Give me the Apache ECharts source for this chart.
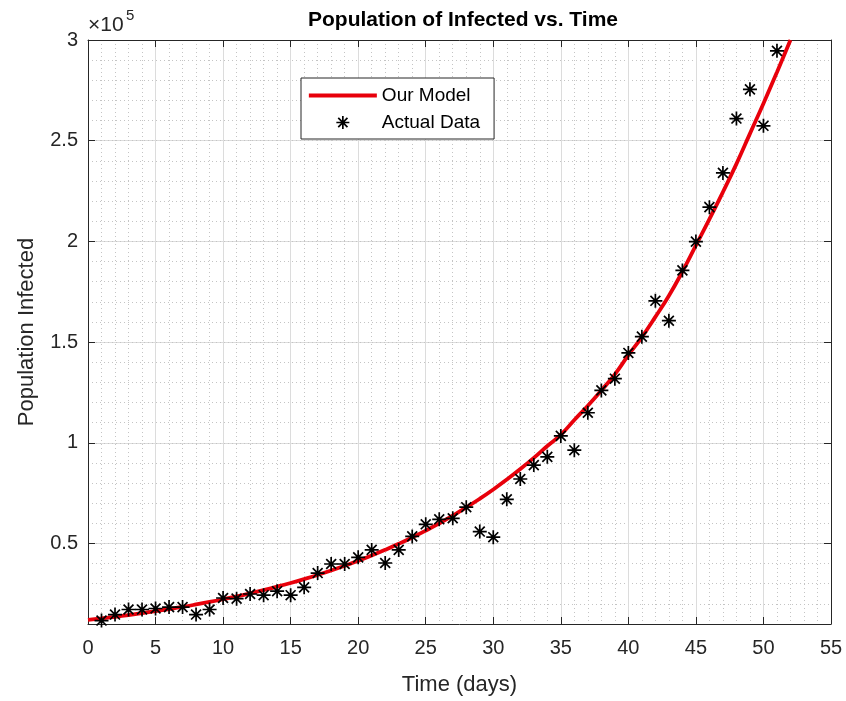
<!DOCTYPE html>
<html>
<head>
<meta charset="utf-8">
<script src="https://cdn.jsdelivr.net/npm/echarts@6/dist/echarts.min.js"></script>
<style>
html,body{margin:0;padding:0;background:#fff;}
#chart{width:846px;height:701px;}
</style>
</head>
<body>
<div id="chart"></div>
<script>
// ---- data ----
var modelDays = [0,1,2,3,4,5,6,7,8,9,10,11,12,13,14,15,16,17,18,19,20,21,22,23,24,25,26,27,28,29,30,31,32,33,34,35,36,37,38,39,40,41,42,43,44,45,46,47,48,49,50,51,52];
var modelValues = [12000,12770,13580,14450,15370,16350,17400,18500,19690,20940,22280,23700,25220,26830,28540,30360,32300,34360,36550,38890,41370,44010,46820,49810,52990,56370,59970,63800,67870,72200,76810,81710,86930,92480,98380,104000,111300,118400,126000,134000,143500,152500,162500,173000,185000,198000,211000,224500,238500,253500,268500,284000,300000];

var dataDays = [1,2,3,4,5,6,7,8,9,10,11,12,13,14,15,16,17,18,19,20,21,22,23,24,25,26,27,28,29,30,31,32,33,34,35,36,37,38,39,40,41,42,43,44,45,46,47,48,49,50,51];
var dataValues = [11700,14700,17200,17200,17700,18400,18400,14700,17200,22900,22600,24900,24300,26300,24300,28200,35300,39800,39800,43100,46800,40300,46800,53500,59500,62000,62500,68000,55900,53100,71900,82000,88900,93000,103400,96300,114900,126000,131800,144600,152700,170500,160600,185600,199900,217000,234000,261000,275500,257400,294600];

var xTicks = [0,5,10,15,20,25,30,35,40,45,50,55];
var yTicks = [50000,100000,150000,200000,250000,300000];

var titleText = 'Population of Infected vs. Time';
var xName = 'Time (days)';
var yName = 'Population Infected';
var modelName = 'Our Model';
var dataName = 'Actual Data';

// ---- chart ----
var FONT = 'Liberation Sans, Arial, Helvetica, sans-serif';
var AX = '#262626';
var RED = '#e8000b';
var starPath = 'path://M6,0 L6,12 M0,6 L12,6 M1.76,1.76 L10.24,10.24 M10.24,1.76 L1.76,10.24';
var starLegend = 'path://M0,0 L0.001,0 M68,14 L68.001,14 M34,0.5 L34,13.5 M27.5,7 L40.5,7 M29.4,2.4 L38.6,11.6 M38.6,2.4 L29.4,11.6';
var lineLegend = 'path://M0,0 L0.001,0 M68,14 L68.001,14 M0,5.1 L68,5.1 L68,8.9 L0,8.9 Z';

var chart = echarts.init(document.getElementById('chart'), null, {renderer: 'canvas'});

var modelPairs = modelDays.map(function (d, i) { return [d, modelValues[i]]; });
var dataPairs = dataDays.map(function (d, i) { return [d, dataValues[i]]; });

function fmtY(v) { return String(Math.round(v / 1e4) / 10); }

var option = {
  backgroundColor: '#ffffff',
  animation: false,
  textStyle: {fontFamily: FONT},
  title: {
    text: titleText,
    left: 458, top: 5, textAlign: 'center',
    textStyle: {fontFamily: FONT, fontWeight: 'bold', fontSize: 21, color: '#000'}
  },
  grid: {left: 88, right: 15, top: 40, bottom: 75, containLabel: false},
  legend: {
    orient: 'vertical',
    left: 301, top: 78,
    padding: [8, 14, 7, 7],
    itemGap: 8,
    itemWidth: 68, itemHeight: 14,
    backgroundColor: '#ffffff',
    borderColor: '#262626', borderWidth: 1,
    textStyle: {fontFamily: FONT, fontSize: 19, color: '#000'},
    data: [
      {name: modelName, icon: lineLegend, itemStyle: {color: RED, borderWidth: 0}},
      {name: dataName, icon: starLegend, itemStyle: {color: 'rgba(0,0,0,0)', borderColor: '#000', borderWidth: 1.7}}
    ]
  },
  graphic: [
    {type: 'text', left: 88, top: 15, style: {text: '×10', fontFamily: FONT, fontSize: 21, fill: AX}},
    {type: 'text', left: 126, top: 8, style: {text: '5', fontFamily: FONT, fontSize: 15, fill: AX}}
  ],
  xAxis: [
    {
      type: 'value', min: 0, max: 55, interval: 5, position: 'bottom',
      name: xName, nameLocation: 'middle', nameGap: 50,
      nameTextStyle: {fontFamily: FONT, fontSize: 22, color: AX},
      axisLine: {show: true, onZero: false, lineStyle: {color: AX, width: 1}},
      axisTick: {show: true, inside: true, length: 7, lineStyle: {color: AX}},
      axisLabel: {show: true, margin: 14, fontFamily: FONT, fontSize: 20, color: AX, showMinLabel: true, showMaxLabel: true},
      splitLine: {show: true, lineStyle: {color: '#dcdcdc', width: 1}},
      minorTick: {show: false, splitNumber: 5},
      minorSplitLine: {show: true, lineStyle: {color: '#c4c4c4', width: 1, type: [1, 3]}}
    },
    {
      type: 'value', min: 0, max: 55, interval: 5, position: 'top',
      axisLine: {show: true, onZero: false, lineStyle: {color: AX, width: 1}},
      axisTick: {show: true, inside: true, length: 7, lineStyle: {color: AX}},
      axisLabel: {show: false},
      splitLine: {show: false}
    }
  ],
  yAxis: [
    {
      type: 'value', min: 10000, max: 300000, position: 'left',
      name: yName, nameLocation: 'middle', nameGap: 50,
      nameTextStyle: {fontFamily: FONT, fontSize: 22, color: AX},
      axisLine: {show: true, onZero: false, lineStyle: {color: AX, width: 1}},
      axisTick: {show: true, inside: true, length: 7, lineStyle: {color: AX}, customValues: yTicks},
      axisLabel: {show: true, margin: 10, fontFamily: FONT, fontSize: 20, color: AX, formatter: fmtY, customValues: yTicks},
      splitLine: {show: true, lineStyle: {color: '#dcdcdc', width: 1}}
    },
    {
      type: 'value', min: 10000, max: 300000, interval: 10000, position: 'left',
      axisLine: {show: false},
      axisTick: {show: false},
      axisLabel: {show: false},
      splitLine: {show: true, lineStyle: {color: '#c4c4c4', width: 1, type: [1, 3]}}
    },
    {
      type: 'value', min: 10000, max: 300000, position: 'right',
      axisLine: {show: true, onZero: false, lineStyle: {color: AX, width: 1}},
      axisTick: {show: true, inside: true, length: 7, lineStyle: {color: AX}, customValues: yTicks},
      axisLabel: {show: false},
      splitLine: {show: false}
    }
  ],
  series: [
    {
      name: modelName, type: 'line', xAxisIndex: 0, yAxisIndex: 0,
      data: modelPairs, showSymbol: false, symbol: 'none', smooth: true,
      clip: true,
      lineStyle: {color: RED, width: 3.8},
      itemStyle: {color: RED},
      z: 3
    },
    {
      name: dataName, type: 'scatter', xAxisIndex: 0, yAxisIndex: 0,
      data: dataPairs, symbol: starPath, symbolSize: 14,
      clip: false,
      itemStyle: {color: 'rgba(0,0,0,0)', borderColor: '#000', borderWidth: 1.7, opacity: 1},
      z: 4
    }
  ]
};
chart.setOption(option);
</script>
</body>
</html>
